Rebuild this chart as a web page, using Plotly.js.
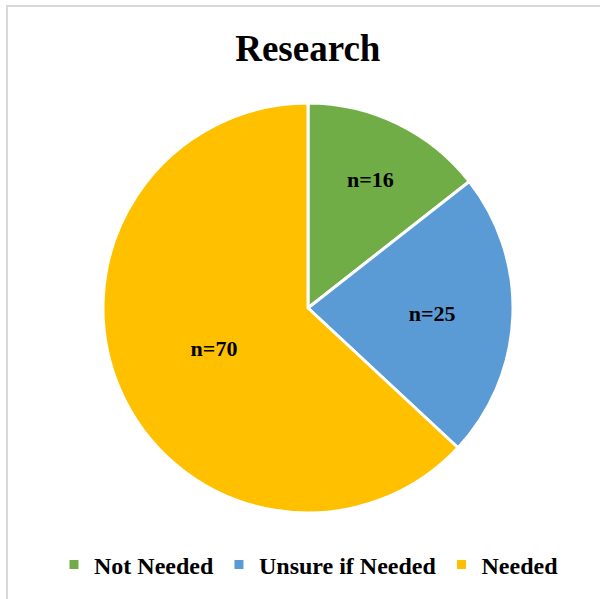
<!DOCTYPE html>
<html>
<head>
<meta charset="utf-8">
<script src="https://cdn.plot.ly/plotly-3.0.1.min.js"></script>
<style>
html,body{margin:0;padding:0;background:#fff;overflow:hidden;}
#wrap{position:relative;width:600px;height:599px;}
#chart{width:600px;height:599px;}
#frame{position:absolute;left:6px;top:5px;width:700px;height:700px;border:2px solid #d9d9d9;pointer-events:none;box-sizing:border-box;}
</style>
</head>
<body>
<div id="wrap"><div id="chart"></div><div id="frame"></div></div>
<script>
const categories = ["Not Needed", "Unsure if Needed", "Needed"];
const values = [16, 25, 70];
const labelsText = ["n=16", "n=25", "n=70"];
const colors = ["#70AD47", "#5B9BD5", "#FFC000"];

const serif = "Liberation Serif, Times New Roman, serif";
Plotly.newPlot("chart", [{
  type: "pie",
  labels: categories,
  values: values,
  text: labelsText,
  texttemplate: "<b>%{text}</b>",
  textposition: "inside",
  insidetextorientation: "horizontal",
  sort: false,
  direction: "clockwise",
  rotation: 0,
  marker: {colors: colors, line: {color: "#ffffff", width: 3}},
  textfont: {family: serif, size: 22, color: "#000", weight: "bold"},
  domain: {x: [103/600, 513/600], y: [1-513/599, 1-103/599]},
  hoverinfo: "none"
}], {
  width: 600, height: 599,
  margin: {l: 0, r: 0, t: 0, b: 0},
  paper_bgcolor: "#ffffff",
  title: {text: "<b>Research</b>", font: {family: serif, size: 37, color: "#000", weight: "bold"}, x: 0.513, xanchor: "center", y: 1-48/599, yanchor: "middle"},
  showlegend: true,
  legend: {orientation: "h", x: 0.515, xanchor: "center", y: 1-565/599, yanchor: "middle",
           font: {family: serif, size: 24, color: "#000", weight: "bold"}, itemwidth: 30, traceorder: "normal"}
}, {displayModeBar: false, staticPlot: true});
</script>
</body>
</html>
